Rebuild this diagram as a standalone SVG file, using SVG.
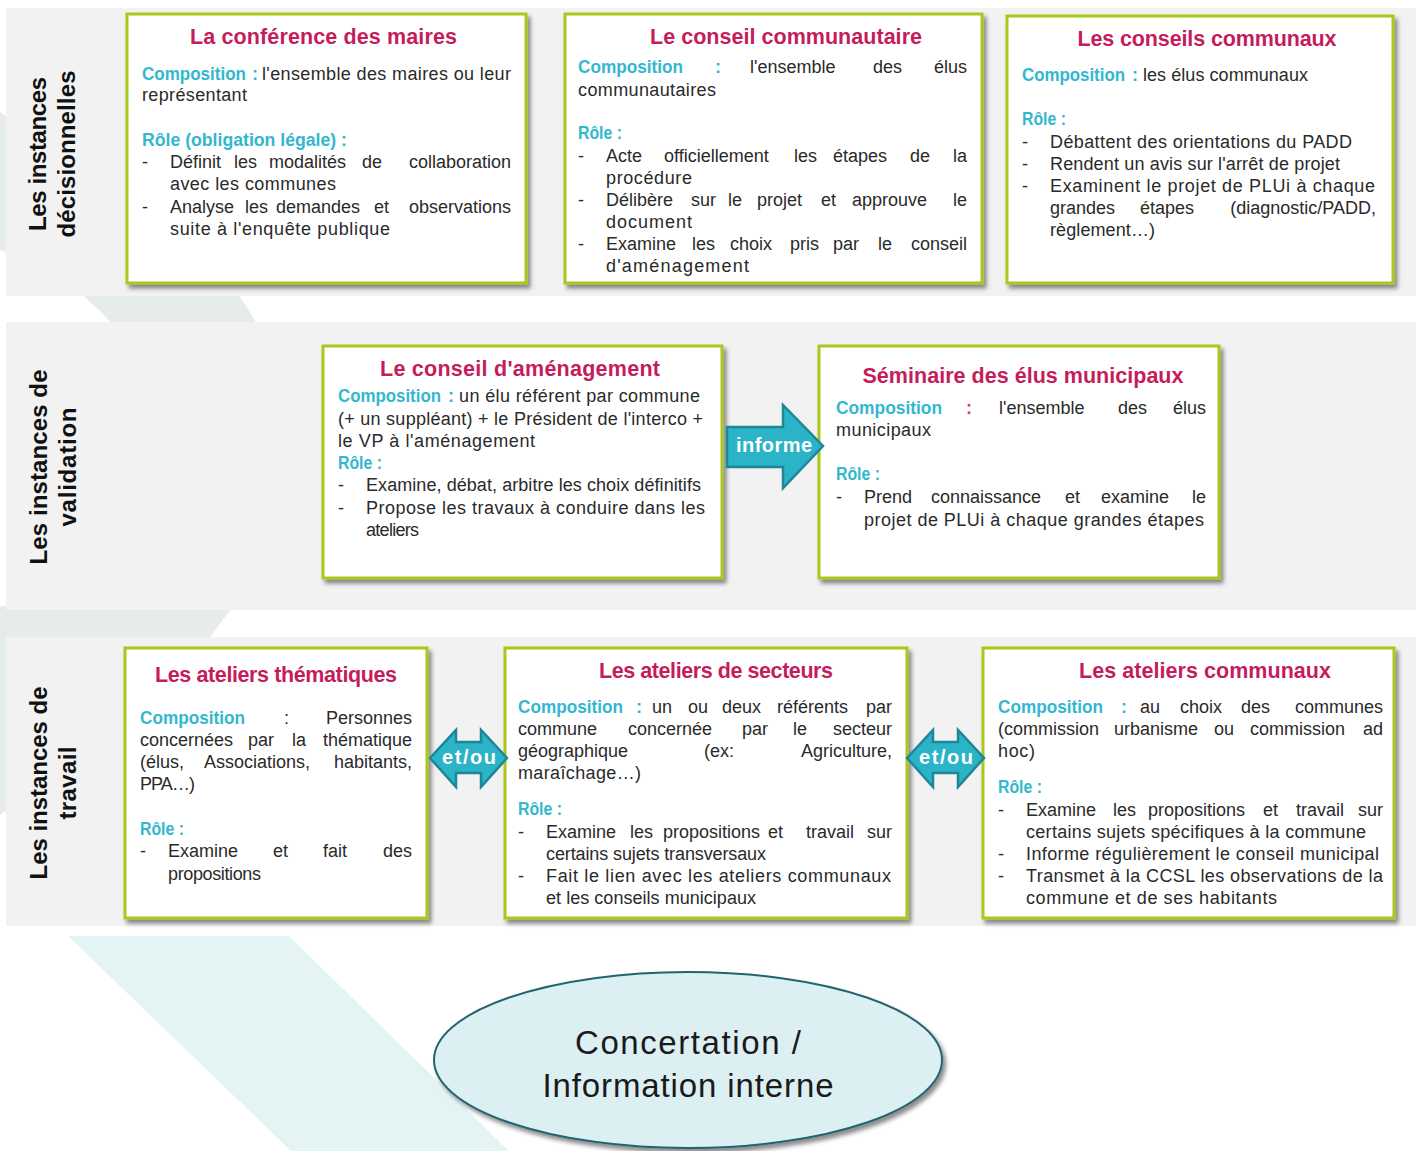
<svg xmlns="http://www.w3.org/2000/svg" width="1423" height="1151" viewBox="0 0 1423 1151">
<style>
text{font-family:"Liberation Sans",Arial,sans-serif;}
.box{fill:#fff;stroke:#abc61c;stroke-width:3;filter:url(#sh);}
.band{fill:#f2f2f2;}
.t{font-size:21.5px;font-weight:bold;fill:#c51c5c;text-anchor:middle;}
.b{font-size:18px;fill:#2a2a2a;}
.k{font-size:18px;font-weight:bold;fill:#33b7cf;}
.e{text-anchor:end;}
.side{font-size:24px;font-weight:bold;fill:#111;text-anchor:middle;}
.arr{fill:#2bb3c7;stroke:#1d8795;stroke-width:2.5;stroke-linejoin:miter;}
.al{font-size:20px;font-weight:bold;fill:#fff;text-anchor:middle;}
</style>
<defs>
<filter id="sh" x="-5%" y="-5%" width="112%" height="115%">
<feDropShadow dx="3" dy="4" stdDeviation="2.2" flood-color="#000" flood-opacity="0.45"/>
</filter>
</defs>
<g id="background">
<path d="M0,112 C120,190 240,255 272,360 L140,360 C100,300 50,265 0,250 Z" fill="#e6ece8"/>
<path d="M0,606 L233,606 L210,637 Q110,730 0,815 Z" fill="#e6ece8"/>
<polygon points="68,936 289,936 509,1151 291,1151" fill="#e4f4f4"/>
<rect class="band" x="6" y="8" width="1410" height="288"/>
<rect class="band" x="6" y="322" width="1410" height="288"/>
<rect class="band" x="6" y="637" width="1410" height="289"/>
</g>
<g id="side-labels">
<text class="side" transform="translate(46,154) rotate(-90)" textLength="154">Les instances</text>
<text class="side" transform="translate(75,154) rotate(-90)" textLength="167">décisionnelles</text>
<text class="side" transform="translate(47,467) rotate(-90)" textLength="195">Les instances de</text>
<text class="side" transform="translate(76,467) rotate(-90)" textLength="119">validation</text>
<text class="side" transform="translate(47,783) rotate(-90)" textLength="193">Les instances de</text>
<text class="side" transform="translate(76,783) rotate(-90)" textLength="73">travail</text>
</g>
<g id="conference-maires">
<rect class="box" x="127" y="14" width="399" height="269"/>
<text class="t" x="323.5" y="44" textLength="267">La conférence des maires</text>
<text class="k" x="142" y="80" textLength="104" lengthAdjust="spacingAndGlyphs">Composition</text>
<text class="k" x="252" y="80">:</text>
<text class="b" x="262" y="80" textLength="249">l'ensemble des maires ou leur</text>
<text class="b" x="142" y="101" textLength="105">représentant</text>
<text class="k" x="142" y="146" textLength="205" lengthAdjust="spacingAndGlyphs">Rôle (obligation légale) :</text>
<text class="b" y="168"><tspan x="142">-</tspan><tspan x="170">Définit</tspan><tspan x="234">les</tspan><tspan x="269">modalités</tspan><tspan x="362">de</tspan><tspan class="e" x="511">collaboration</tspan></text>
<text class="b" x="170" y="190" textLength="166">avec les communes</text>
<text class="b" y="213"><tspan x="142">-</tspan><tspan x="170">Analyse</tspan><tspan x="245">les</tspan><tspan x="276">demandes</tspan><tspan x="374">et</tspan><tspan class="e" x="511">observations</tspan></text>
<text class="b" x="170" y="235" textLength="220">suite à l'enquête publique</text>
</g>
<g id="conseil-communautaire">
<rect class="box" x="565" y="14" width="417" height="269"/>
<text class="t" x="786" y="44" textLength="272">Le conseil communautaire</text>
<text class="k" x="578" y="73" textLength="105" lengthAdjust="spacingAndGlyphs">Composition</text>
<text class="k" x="715" y="73">:</text>
<text class="b" y="73"><tspan x="750">l'ensemble</tspan><tspan x="873">des</tspan><tspan class="e" x="967">élus</tspan></text>
<text class="b" x="578" y="96" textLength="138">communautaires</text>
<text class="k" x="578" y="139" textLength="44" lengthAdjust="spacingAndGlyphs">Rôle :</text>
<text class="b" y="162"><tspan x="578">-</tspan><tspan x="606">Acte</tspan><tspan x="664">officiellement</tspan><tspan x="794">les</tspan><tspan x="833">étapes</tspan><tspan x="910">de</tspan><tspan class="e" x="967">la</tspan></text>
<text class="b" x="606" y="184" textLength="86">procédure</text>
<text class="b" y="206"><tspan x="578">-</tspan><tspan x="606">Délibère</tspan><tspan x="691">sur</tspan><tspan x="728">le</tspan><tspan x="757">projet</tspan><tspan x="821">et</tspan><tspan x="852">approuve</tspan><tspan class="e" x="967">le</tspan></text>
<text class="b" x="606" y="228" textLength="86">document</text>
<text class="b" y="250"><tspan x="578">-</tspan><tspan x="606">Examine</tspan><tspan x="692">les</tspan><tspan x="730">choix</tspan><tspan x="790">pris</tspan><tspan x="833">par</tspan><tspan x="878">le</tspan><tspan class="e" x="967">conseil</tspan></text>
<text class="b" x="606" y="272" textLength="143">d'aménagement</text>
</g>
<g id="conseils-communaux">
<rect class="box" x="1007" y="16" width="386" height="267"/>
<text class="t" x="1207" y="46" textLength="259">Les conseils communaux</text>
<text class="k" x="1022" y="81" textLength="103" lengthAdjust="spacingAndGlyphs">Composition</text>
<text class="k" x="1132" y="81">:</text>
<text class="b" x="1143" y="81" textLength="165">les élus communaux</text>
<text class="k" x="1022" y="125" textLength="44" lengthAdjust="spacingAndGlyphs">Rôle :</text>
<text class="b" x="1022" y="148">-</text>
<text class="b" x="1050" y="148" textLength="302">Débattent des orientations  du PADD</text>
<text class="b" x="1022" y="170">-</text>
<text class="b" x="1050" y="170" textLength="290">Rendent un avis sur l'arrêt de projet</text>
<text class="b" x="1022" y="192">-</text>
<text class="b" x="1050" y="192" textLength="325">Examinent le projet de PLUi à chaque</text>
<text class="b" y="214"><tspan x="1050">grandes</tspan><tspan x="1140">étapes</tspan><tspan class="e" x="1376">(diagnostic/PADD,</tspan></text>
<text class="b" x="1050" y="236" textLength="105">règlement…)</text>
</g>
<g id="conseil-amenagement">
<rect class="box" x="323" y="346" width="399" height="232"/>
<text class="t" x="520" y="376" textLength="280">Le conseil d'aménagement</text>
<text class="k" x="338" y="402" textLength="103" lengthAdjust="spacingAndGlyphs">Composition</text>
<text class="k" x="448" y="402">:</text>
<text class="b" x="459" y="402" textLength="241">un élu référent par commune</text>
<text class="b" x="338" y="425" textLength="365">(+ un suppléant) + le Président de l'interco +</text>
<text class="b" x="338" y="447" textLength="197">le VP à l'aménagement</text>
<text class="k" x="338" y="469" textLength="44" lengthAdjust="spacingAndGlyphs">Rôle :</text>
<text class="b" x="338" y="491">-</text>
<text class="b" x="366" y="491" textLength="335">Examine, débat, arbitre les choix définitifs</text>
<text class="b" x="338" y="514">-</text>
<text class="b" x="366" y="514" textLength="339">Propose les travaux à conduire dans les</text>
<text class="b" x="366" y="536" textLength="53">ateliers</text>
</g>
<g id="seminaire-elus">
<rect class="box" x="819" y="346" width="400" height="232"/>
<text class="t" x="1023" y="383" textLength="321">Séminaire des élus municipaux</text>
<text class="k" x="836" y="414" textLength="106" lengthAdjust="spacingAndGlyphs">Composition</text>
<text class="k" x="966" y="414" style="fill:#d9345f">:</text>
<text class="b" y="414"><tspan x="999">l'ensemble</tspan><tspan x="1118">des</tspan><tspan class="e" x="1206">élus</tspan></text>
<text class="b" x="836" y="436" textLength="95">municipaux</text>
<text class="k" x="836" y="480" textLength="44" lengthAdjust="spacingAndGlyphs">Rôle :</text>
<text class="b" y="503"><tspan x="836">-</tspan><tspan x="864">Prend</tspan><tspan x="931">connaissance</tspan><tspan x="1065">et</tspan><tspan x="1101">examine</tspan><tspan class="e" x="1206">le</tspan></text>
<text class="b" x="864" y="526" textLength="340">projet de PLUi à chaque grandes étapes</text>
</g>
<g id="ateliers-thematiques">
<rect class="box" x="125" y="648" width="302" height="270"/>
<text class="t" x="276" y="682" textLength="242">Les ateliers thématiques</text>
<text class="k" x="140" y="724" textLength="105" lengthAdjust="spacingAndGlyphs">Composition</text>
<text class="b" y="724"><tspan x="284">:</tspan><tspan class="e" x="412">Personnes</tspan></text>
<text class="b" y="746"><tspan x="140">concernées</tspan><tspan x="248">par</tspan><tspan x="292">la</tspan><tspan class="e" x="412">thématique</tspan></text>
<text class="b" y="768"><tspan x="140">(élus,</tspan><tspan x="204">Associations,</tspan><tspan class="e" x="412">habitants,</tspan></text>
<text class="b" x="140" y="790" textLength="55">PPA…)</text>
<text class="k" x="140" y="835" textLength="44" lengthAdjust="spacingAndGlyphs">Rôle :</text>
<text class="b" y="857"><tspan x="140">-</tspan><tspan x="168">Examine</tspan><tspan x="273">et</tspan><tspan x="323">fait</tspan><tspan class="e" x="412">des</tspan></text>
<text class="b" x="168" y="880" textLength="93">propositions</text>
</g>
<g id="ateliers-secteurs">
<rect class="box" x="505" y="648" width="402" height="270"/>
<text class="t" x="716" y="678" textLength="234">Les ateliers de secteurs</text>
<text class="k" x="518" y="713" textLength="105" lengthAdjust="spacingAndGlyphs">Composition</text>
<text class="k" x="636" y="713">:</text>
<text class="b" y="713"><tspan x="652">un</tspan><tspan x="688">ou</tspan><tspan x="722">deux</tspan><tspan x="777">référents</tspan><tspan class="e" x="892">par</tspan></text>
<text class="b" y="735"><tspan x="518">commune</tspan><tspan x="628">concernée</tspan><tspan x="742">par</tspan><tspan x="793">le</tspan><tspan class="e" x="892">secteur</tspan></text>
<text class="b" y="757"><tspan x="518">géographique</tspan><tspan x="704">(ex:</tspan><tspan class="e" x="892">Agriculture,</tspan></text>
<text class="b" x="518" y="779" textLength="123">maraîchage…)</text>
<text class="k" x="518" y="815" textLength="44" lengthAdjust="spacingAndGlyphs">Rôle :</text>
<text class="b" y="838"><tspan x="518">-</tspan><tspan x="546">Examine</tspan><tspan x="630">les</tspan><tspan x="663">propositions</tspan><tspan x="768">et</tspan><tspan x="806">travail</tspan><tspan class="e" x="892">sur</tspan></text>
<text class="b" x="546" y="860" textLength="220">certains sujets transversaux</text>
<text class="b" x="518" y="882">-</text>
<text class="b" x="546" y="882" textLength="345">Fait le lien avec les ateliers communaux</text>
<text class="b" x="546" y="904" textLength="210">et les conseils municipaux</text>
</g>
<g id="ateliers-communaux">
<rect class="box" x="983" y="648" width="411" height="270"/>
<text class="t" x="1205" y="678" textLength="252">Les ateliers communaux</text>
<text class="k" x="998" y="713" textLength="105" lengthAdjust="spacingAndGlyphs">Composition</text>
<text class="k" x="1121" y="713">:</text>
<text class="b" y="713"><tspan x="1140">au</tspan><tspan x="1180">choix</tspan><tspan x="1241">des</tspan><tspan class="e" x="1383">communes</tspan></text>
<text class="b" y="735"><tspan x="998">(commission</tspan><tspan x="1114">urbanisme</tspan><tspan x="1214">ou</tspan><tspan x="1250">commission</tspan><tspan class="e" x="1383">ad</tspan></text>
<text class="b" x="998" y="757" textLength="37">hoc)</text>
<text class="k" x="998" y="793" textLength="44" lengthAdjust="spacingAndGlyphs">Rôle :</text>
<text class="b" y="816"><tspan x="998">-</tspan><tspan x="1026">Examine</tspan><tspan x="1113">les</tspan><tspan x="1148">propositions</tspan><tspan x="1263">et</tspan><tspan x="1296">travail</tspan><tspan class="e" x="1383">sur</tspan></text>
<text class="b" x="1026" y="838" textLength="340">certains sujets spécifiques  à la commune</text>
<text class="b" x="998" y="860">-</text>
<text class="b" x="1026" y="860" textLength="353">Informe régulièrement le conseil municipal</text>
<text class="b" x="998" y="882">-</text>
<text class="b" x="1026" y="882" textLength="357">Transmet à la CCSL les observations de la</text>
<text class="b" x="1026" y="904" textLength="251">commune  et de ses habitants</text>
</g>
<g id="concertation">
<ellipse cx="688" cy="1060" rx="254" ry="88" fill="#dcf0f3" stroke="#22656f" stroke-width="2" filter="url(#sh)"/>
<text x="688" y="1054" font-size="33" fill="#1a1a1a" text-anchor="middle" textLength="226">Concertation /</text>
<text x="688" y="1097" font-size="33" fill="#1a1a1a" text-anchor="middle" textLength="291">Information interne</text>
</g>
<g id="connectors">
<path class="arr" d="M727,427 L783,427 L783,405 L823,446 L783,488 L783,467 L727,467 Z"/>
<text class="al" x="774" y="452" textLength="76">informe</text>
<path class="arr" d="M430,758 L456,730 L456,742 L481,742 L481,730 L507,758 L481,787 L481,773 L456,773 L456,787 Z"/>
<text class="al" x="469" y="764" textLength="54">et/ou</text>
<path class="arr" d="M907,758 L933,730 L933,742 L958,742 L958,730 L984,758 L958,787 L958,773 L933,773 L933,787 Z"/>
<text class="al" x="946" y="764" textLength="54">et/ou</text>
</g>
</svg>
